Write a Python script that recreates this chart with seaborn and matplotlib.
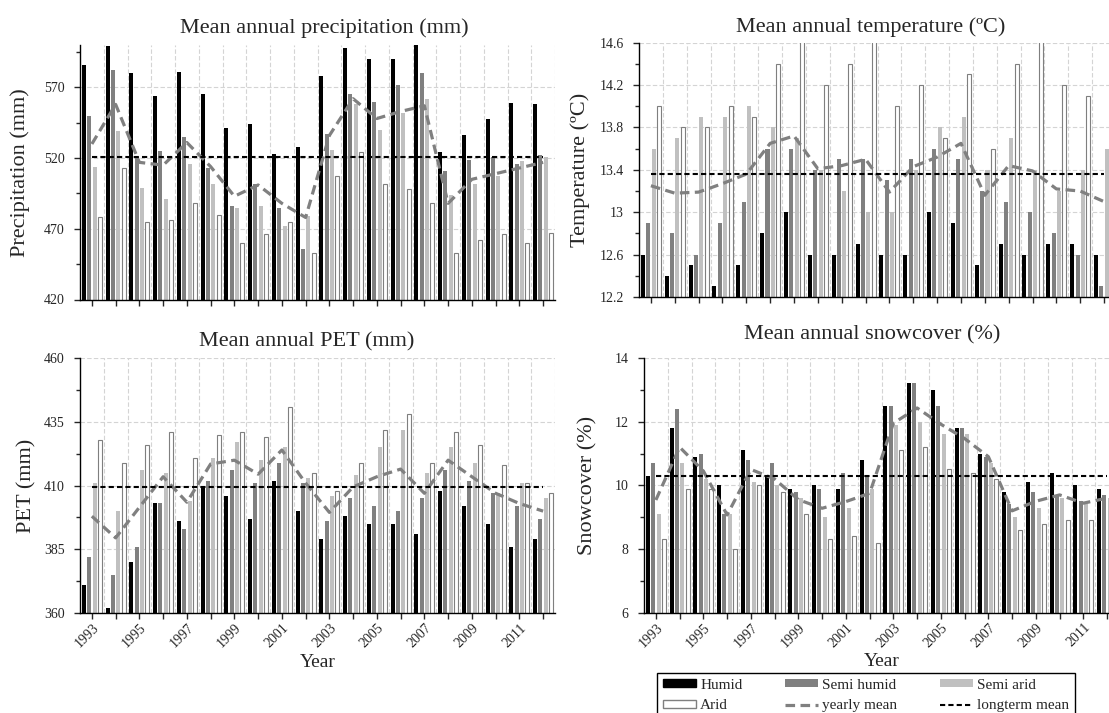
import numpy as np
import pandas as pd
import matplotlib
matplotlib.use('Agg')
import matplotlib.pyplot as plt
import seaborn as sns
from matplotlib.patches import Patch
from matplotlib.lines import Line2D
from matplotlib.ticker import FixedLocator, FormatStrFormatter

# data
years = list(range(1993, 2013))
zones = ['Humid', 'Semi humid', 'Semi arid', 'Arid']

humid_p = [586, 599, 580, 564, 581, 565, 541, 544, 523, 528, 578, 598, 590, 590, 600, 524, 536, 548, 559, 558]
semi_humid_p = [550, 582, 521, 525, 535, 513, 486, 502, 485, 456, 537, 565, 560, 572, 580, 511, 519, 521, 516, 522]
semi_arid_p = [514, 539, 499, 491, 516, 502, 485, 486, 472, 479, 526, 558, 540, 552, 562, 494, 502, 507, 518, 521]
arid_p = [478, 513, 475, 476, 488, 480, 460, 466, 475, 453, 507, 524, 502, 498, 488, 453, 462, 466, 460, 467]
yearly_p = [530, 558, 517, 515, 531, 514, 493, 501, 488, 478, 536, 562, 548, 553, 557, 488, 505, 509, 513, 517]
longterm_p = 521

humid_t = [12.6, 12.4, 12.5, 12.3, 12.5, 12.8, 13.0, 12.6, 12.6, 12.7, 12.6, 12.6, 13.0, 12.9, 12.5, 12.7, 12.6, 12.7, 12.7, 12.6]
semi_humid_t = [12.9, 12.8, 12.6, 12.9, 13.1, 13.6, 13.6, 13.4, 13.5, 13.5, 13.3, 13.5, 13.6, 13.5, 13.2, 13.1, 13.0, 12.8, 12.6, 12.3]
semi_arid_t = [13.6, 13.7, 13.9, 13.9, 14.0, 13.8, 13.7, 13.4, 13.2, 13.0, 13.0, 13.4, 13.8, 13.9, 13.4, 13.7, 13.4, 13.2, 13.4, 13.6]
arid_t = [14.0, 13.8, 13.8, 14.0, 13.9, 14.4, 14.7, 14.2, 14.4, 14.8, 14.0, 14.2, 13.7, 14.3, 13.6, 14.4, 14.7, 14.2, 14.1, 13.9]
yearly_t = [13.25, 13.18, 13.19, 13.27, 13.36, 13.65, 13.72, 13.41, 13.44, 13.5, 13.19, 13.43, 13.52, 13.65, 13.16, 13.44, 13.39, 13.22, 13.2, 13.1]
longterm_t = 13.365

humid_pet = [371, 362, 380, 403, 396, 409.5, 406, 397, 412, 400, 389, 398, 395, 395, 391, 408, 402, 395, 386, 389]
semi_humid_pet = [382, 375, 386, 403, 393, 412, 416, 411, 419, 411, 396, 405, 402, 400, 405, 416, 412, 407, 402, 397]
semi_arid_pet = [411, 400, 416, 415, 404, 421, 427, 420, 425, 413, 406, 414, 425, 432, 415, 425, 419, 407, 411, 405]
arid_pet = [428, 419, 426, 431, 421, 430, 431, 429, 441, 415, 408, 419, 432, 438, 419, 431, 426, 418, 411, 407]
yearly_pet = [398, 389.5, 401.5, 413.5, 403.5, 418.5, 420, 414.5, 424, 411, 399.5, 409.5, 413.5, 416.5, 407, 420, 413.5, 407, 403, 400]
longterm_pet = 409.3

humid_s = [10.3, 11.8, 10.9, 10.0, 11.1, 10.3, 9.9, 10.0, 9.9, 10.8, 12.5, 13.2, 13.0, 11.8, 11.0, 9.8, 10.1, 10.4, 10.0, 9.9]
semi_humid_s = [10.7, 12.4, 11.0, 9.1, 10.8, 10.7, 9.8, 9.9, 10.4, 10.3, 12.5, 13.2, 12.5, 11.8, 10.9, 9.4, 9.8, 9.7, 9.5, 9.7]
semi_arid_s = [9.1, 10.7, 10.2, 9.1, 10.1, 10.0, 9.6, 9.0, 9.3, 9.9, 11.9, 12.0, 11.6, 11.6, 10.7, 9.0, 9.3, 9.6, 9.4, 9.6]
arid_s = [8.3, 9.9, 9.9, 8.0, 10.0, 9.8, 9.1, 8.3, 8.4, 8.2, 11.1, 11.2, 10.5, 10.4, 10.2, 8.6, 8.8, 8.9, 8.9, 8.9]
yearly_s = [9.54, 11.2, 10.45, 9.07, 10.5, 10.2, 9.55, 9.28, 9.49, 9.75, 11.95, 12.43, 11.92, 11.47, 10.9, 9.2, 9.5, 9.7, 9.44, 9.6]
longterm_s = 10.28

zone_colors = {'Humid': '#000000', 'Semi humid': '#808080', 'Semi arid': '#c0c0c0', 'Arid': '#ffffff'}
mean_color = '#808080'

sns.set_style('ticks')
plt.rcParams['font.family'] = ['Liberation Serif', 'DejaVu Serif']

W, H = 1109, 713
fig = plt.figure(figsize=(W / 100, H / 100), dpi=100)


def add_ax(left, top, right, bottom):
    return fig.add_axes([left / W, 1 - bottom / H, (right - left) / W, (bottom - top) / H])


def draw_panel(ax, values, yearly, longterm, ylim, major, minor, fmt, ylabel, ylab_x, bottom_row):
    df = pd.DataFrame({'year': years * 4,
                       'zone': np.repeat(zones, len(years)),
                       'value': np.concatenate(values)})
    sns.barplot(data=df, x='year', y='value', hue='zone', hue_order=zones,
                palette=zone_colors, native_scale=True, width=0.9, gap=0.25,
                errorbar=None, saturation=1, linewidth=0, legend=False, ax=ax)
    # arid bars: white with grey outline
    for bar in ax.containers[3]:
        bar.set_edgecolor('#7f7f7f')
        bar.set_linewidth(0.8)

    sns.lineplot(x=years, y=yearly, ax=ax, color=mean_color, lw=2.3,
                 linestyle=(0, (3, 1.7)), zorder=4)
    sns.lineplot(x=[years[0], years[-1]], y=[longterm, longterm], ax=ax,
                 color='black', lw=1.5, linestyle=(0, (2.5, 1.5)), zorder=5)

    ax.set_xlim(1992.5, 2012.5)
    ax.set_ylim(*ylim)
    ax.set_xticks(years)
    ax.set_xticks(np.arange(1993.5, 2013, 1), minor=True)
    ax.yaxis.set_major_locator(FixedLocator(major))
    ax.yaxis.set_minor_locator(FixedLocator(minor))
    ax.yaxis.set_major_formatter(FormatStrFormatter(fmt))

    ax.set_axisbelow(True)
    grid_kw = dict(color='#d4d4d4', linestyle=(0, (4, 2)), linewidth=0.8)
    ax.grid(axis='y', which='major', **grid_kw)
    ax.grid(axis='x', which='minor', **grid_kw)

    ax.tick_params(axis='x', which='minor', length=0)
    ax.tick_params(axis='x', which='major', length=4, width=1, direction='out', labelsize=10, pad=2)
    ax.tick_params(axis='y', which='major', length=4, width=1, direction='out', labelsize=10, pad=7)
    ax.tick_params(axis='y', which='minor', length=3, width=1, direction='out')

    for side in ['top', 'right']:
        ax.spines[side].set_visible(False)
    for side in ['left', 'bottom']:
        ax.spines[side].set_color('black')
        ax.spines[side].set_linewidth(1.0)

    if bottom_row:
        ax.set_xticklabels([str(y) if (y - 1993) % 2 == 0 else '' for y in years],
                           rotation=45, ha='right', rotation_mode='anchor')
        ax.set_xlabel('Year', fontsize=14)
        ax.xaxis.set_label_coords(0.5, -0.16)
    else:
        ax.set_xticklabels([])
        ax.set_xlabel('')

    ax.set_ylabel(ylabel, fontsize=16, va='center')
    ax.yaxis.set_label_coords(ylab_x, 0.5)


ax_p = add_ax(80, 45, 555, 299.5)
ax_t = add_ax(639, 42.7, 1116, 297)
ax_e = add_ax(80, 358.3, 555, 613)
ax_s = add_ax(644, 358, 1119, 612.7)

draw_panel(ax_p, [humid_p, semi_humid_p, semi_arid_p, arid_p], yearly_p, longterm_p,
           (420, 600), np.arange(420, 601, 50), np.arange(420, 601, 25), '%g',
           'Precipitation (mm)', (20.5 - 80) / 475, False)
draw_panel(ax_t, [humid_t, semi_humid_t, semi_arid_t, arid_t], yearly_t, longterm_t,
           (12.2, 14.6), np.round(np.arange(12.2, 14.61, 0.4), 1),
           np.round(np.arange(12.2, 14.61, 0.2), 1), '%g',
           'Temperature (ºC)', (580 - 639) / 477, False)
draw_panel(ax_e, [humid_pet, semi_humid_pet, semi_arid_pet, arid_pet], yearly_pet, longterm_pet,
           (360, 460), np.arange(360, 461, 25), np.arange(360, 461, 12.5), '%g',
           'PET (mm)', (27 - 80) / 475, True)
draw_panel(ax_s, [humid_s, semi_humid_s, semi_arid_s, arid_s], yearly_s, longterm_s,
           (6, 14), np.arange(6, 15, 2), np.arange(6, 15, 1), '%g',
           'Snowcover (%)', (588 - 644) / 475, True)

# panel titles
fig.text(324 / W, 1 - 33 / H, 'Mean annual precipitation (mm)', ha='center', va='baseline', fontsize=16)
fig.text(871 / W, 1 - 31.7 / H, 'Mean annual temperature (ºC)', ha='center', va='baseline', fontsize=16)
fig.text(307 / W, 1 - 346 / H, 'Mean annual PET (mm)', ha='center', va='baseline', fontsize=16)
fig.text(872 / W, 1 - 339 / H, 'Mean annual snowcover (%)', ha='center', va='baseline', fontsize=16)

# shared legend, column-wise order
handles = [Patch(facecolor=zone_colors['Humid'], edgecolor='black', label='Humid'),
           Patch(facecolor='white', edgecolor='#7f7f7f', label='Arid'),
           Patch(facecolor=zone_colors['Semi humid'], edgecolor='none', label='Semi humid'),
           Line2D([], [], color=mean_color, lw=2.3, linestyle=(0, (3, 1.7)), label='yearly mean'),
           Patch(facecolor=zone_colors['Semi arid'], edgecolor='none', label='Semi arid'),
           Line2D([], [], color='black', lw=1.5, linestyle=(0, (2.5, 1.5)), label='longterm mean')]
leg = fig.legend(handles=handles, ncol=3, loc='upper left',
                 bbox_to_anchor=(657 / W, 1 - 673 / H, 418 / W, 0), mode='expand',
                 frameon=True, fancybox=False, edgecolor='black', framealpha=1,
                 fontsize=11, handlelength=2.2, handleheight=0.45, handletextpad=0.25,
                 labelspacing=0.5, borderpad=0.38, borderaxespad=0)
leg.get_frame().set_linewidth(1.0)

fig.savefig('out.png', dpi=100)
